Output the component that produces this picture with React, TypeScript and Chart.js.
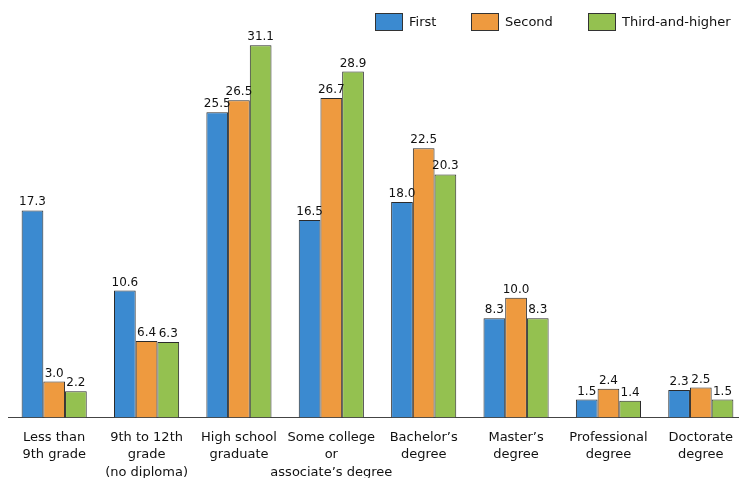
import React, { useEffect, useRef } from "react";
import { Chart, registerables } from "chart.js";

Chart.register(...registerables);

const categories: string[][] = [
  ["Less than", "9th grade"],
  ["9th to 12th", "grade", "(no diploma)"],
  ["High school", "graduate"],
  ["Some college", "or", "associate’s degree"],
  ["Bachelor’s", "degree"],
  ["Master’s", "degree"],
  ["Professional", "degree"],
  ["Doctorate", "degree"],
];

const seriesNames = ["First", "Second", "Third-and-higher"];
const firstValues = [17.3, 10.6, 25.5, 16.5, 18.0, 8.3, 1.5, 2.3];
const secondValues = [3.0, 6.4, 26.5, 26.7, 22.5, 10.0, 2.4, 2.5];
const thirdValues = [2.2, 6.3, 31.1, 28.9, 20.3, 8.3, 1.4, 1.5];
const seriesColors = ["#3b8ad0", "#ee9a3f", "#94c150"];

const FONT = "'DejaVu Sans', Verdana, sans-serif";

// Writes each bar's value just above its top edge.
const valueLabels = {
  id: "valueLabels",
  afterDatasetsDraw(chart: any) {
    const ctx = chart.ctx;
    ctx.save();
    ctx.font = `12px ${FONT}`;
    ctx.fillStyle = "#111";
    ctx.textAlign = "center";
    ctx.textBaseline = "alphabetic";
    chart.data.datasets.forEach((ds: any, di: number) => {
      const meta = chart.getDatasetMeta(di);
      meta.data.forEach((bar: any, i: number) => {
        const v = ds.data[i] as number;
        ctx.fillText(v.toFixed(1), bar.x, bar.y - 5);
      });
    });
    ctx.restore();
  },
};

// Legend row in the top-right corner: bordered swatch followed by the series name.
const cornerLegend = {
  id: "cornerLegend",
  afterDraw(chart: any) {
    const ctx = chart.ctx;
    ctx.save();
    ctx.font = `13px ${FONT}`;
    ctx.textBaseline = "middle";
    ctx.textAlign = "left";
    const boxW = 27;
    const boxH = 17;
    const gap = 7;
    const spacing = 35;
    const rightEdge = 731;
    const top = 13;
    const widths = chart.data.datasets.map(
      (ds: any) => boxW + gap + ctx.measureText(ds.label).width
    );
    const total =
      widths.reduce((a: number, b: number) => a + b, 0) +
      spacing * (widths.length - 1);
    let x = Math.round(rightEdge - total);
    chart.data.datasets.forEach((ds: any, i: number) => {
      ctx.fillStyle = ds.backgroundColor;
      ctx.fillRect(x + 0.5, top + 0.5, boxW, boxH);
      ctx.strokeStyle = "#333";
      ctx.lineWidth = 1;
      ctx.strokeRect(x + 0.5, top + 0.5, boxW, boxH);
      ctx.fillStyle = "#111";
      ctx.fillText(ds.label, x + boxW + gap, top + boxH / 2 + 1);
      x = Math.round(x + widths[i] + spacing);
    });
    ctx.restore();
  },
};

export default function App() {
  const canvasRef = useRef<HTMLCanvasElement | null>(null);

  useEffect(() => {
    if (!canvasRef.current) return;
    const values = [firstValues, secondValues, thirdValues];
    const chart = new Chart(canvasRef.current, {
      type: "bar",
      data: {
        labels: categories,
        datasets: seriesNames.map((name, i) => ({
          label: name,
          data: values[i],
          backgroundColor: seriesColors[i],
          borderColor: "#2b2b2b",
          borderWidth: 1,
          borderSkipped: "bottom",
          categoryPercentage: 0.705,
          barPercentage: 1,
        })),
      },
      options: {
        animation: false,
        responsive: false,
        maintainAspectRatio: false,
        layout: { padding: { left: 8, right: 0, top: 10.5, bottom: 0 } },
        plugins: {
          legend: { display: false },
          tooltip: { enabled: false },
          title: { display: false },
        },
        scales: {
          x: {
            grid: { display: false, drawTicks: false },
            border: { display: true, color: "#444", width: 1 },
            ticks: {
              color: "#111",
              font: { family: FONT, size: 13, lineHeight: 1.33 },
              padding: 11.5,
              maxRotation: 0,
              autoSkip: false,
            },
            afterFit(scale: any) {
              scale.height = 60.5;
            },
          },
          y: {
            display: false,
            min: 0,
            max: 34,
          },
        },
      },
      plugins: [valueLabels, cornerLegend],
    });
    return () => chart.destroy();
  }, []);

  return (
    <div
      style={{
        position: "fixed",
        left: 0,
        top: 0,
        width: 739,
        height: 478,
        overflow: "hidden",
        background: "#fff",
      }}
    >
      <canvas
        ref={canvasRef}
        width={747}
        height={478}
        style={{ display: "block", width: 747, height: 478 }}
      />
    </div>
  );
}
